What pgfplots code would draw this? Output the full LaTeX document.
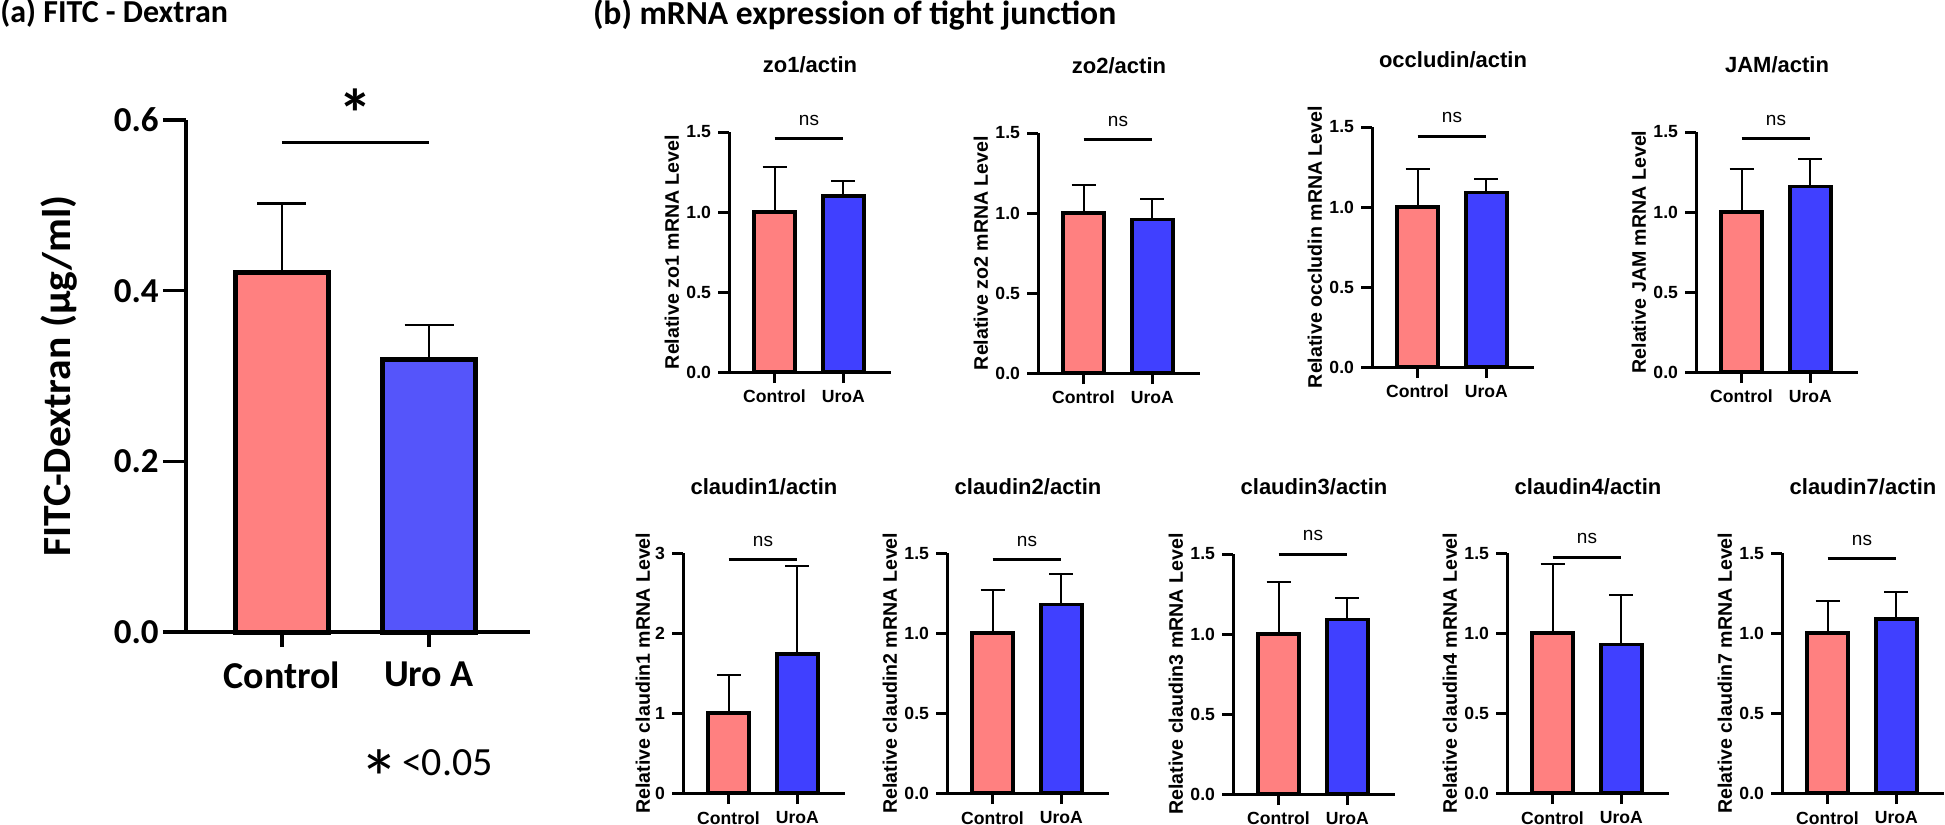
\documentclass[border=0pt]{standalone}
\usepackage{fontspec}
\usepackage{pgfplots}
\pgfplotsset{compat=1.18}
\setmainfont{Liberation Sans}
\newfontfamily\calfont{Carlito}
\newfontfamily\labfont{Carlito}[FakeStretch=1.04]
\definecolor{ctrl}{RGB}{255,128,128}
\definecolor{uroA}{RGB}{85,85,250}
\definecolor{uroB}{RGB}{64,64,255}

\tikzset{nsfont/.style={font=\fontsize{9.5}{11}\selectfont}}
\pgfplotsset{
  bbase/.style={scale only axis, width=81pt, height=120pt, anchor=south west,
    xmin=-0.66, xmax=1.69, ymin=0, ymax=1.5,
    axis x line*=bottom, axis y line*=left,
    axis line style={line width=1.5pt, -, black},
    xtick={0,1}, xticklabels={Control,UroA},
    ytick={0,0.5,1,1.5},
    yticklabel style={/pgf/number format/.cd, fixed, fixed zerofill, precision=1, assume math mode=true},
    tick align=outside, major tick length=5.5pt,
    every tick/.style={line width=1.5pt, black},
    tick label style={font=\fontsize{8.8}{10}\selectfont\bfseries},
    ylabel style={font=\fontsize{9.8}{11}\selectfont\bfseries, at={(axis description cs:-0.352,0.5)}, anchor=center},
    title style={font=\fontsize{11}{13}\selectfont\bfseries, at={(axis description cs:0.5,1.229)}, anchor=center},
    clip=false},
  gbar/.style={ybar, bar width=0.59, draw=black, line width=1.75pt,
    error bars/.cd, y dir=plus, y explicit,
    error bar style={line width=1pt, black},
    error mark options={rotate=90, line width=1pt, mark size=6pt, black}},
  abar/.style={ybar, bar width=0.626, draw=black, line width=2.5pt,
    error bars/.cd, y dir=plus, y explicit,
    error bar style={line width=1.25pt, black},
    error mark options={rotate=90, line width=1.25pt, mark size=12.25pt, black}},
  nsline/.style={line width=1.5pt, black},
}

\begin{document}
\begin{tikzpicture}
\useasboundingbox (0,0) rectangle (972.5pt,-412.5pt);

% ---------- titles ----------
\node[anchor=base west, inner sep=0pt, font=\calfont\bfseries\fontsize{16}{18}\selectfont] at (0pt,-11.35pt) {(a) FITC - Dextran};
\node[anchor=base west, inner sep=0pt, font=\calfont\bfseries\fontsize{16.8}{19}\selectfont] at (296.3pt,-12.1pt) {(b) mRNA expression of tight junction};

% ---------- (a) ----------
\begin{axis}[scale only axis, width=172pt, height=256pt, anchor=south west, at={(93pt,-316pt)},
  xmin=-0.653, xmax=1.687, ymin=0, ymax=0.6,
  axis x line*=bottom, axis y line*=left,
  axis line style={line width=1.75pt, -, black},
  xtick={0,1}, xticklabels={Control,Uro A}, ytick={0,0.2,0.4,0.6},
  yticklabel style={font=\calfont\bfseries\fontsize{17.5}{20}\selectfont, inner sep=2pt,
    /pgf/number format/.cd, fixed, fixed zerofill, precision=1, assume math mode=true},
  tick align=outside, major tick length=11.5pt,
  xtick style={/pgfplots/major tick length=7.5pt},
  every tick/.style={line width=1.75pt, black},
  xticklabel style={font=\calfont\bfseries\fontsize{19}{22}\selectfont},
  ylabel={FITC-Dextran (μg/ml)},
  ylabel style={font=\labfont\bfseries\fontsize{20}{22}\selectfont, at={(axis description cs:-0.37,0.5)}, anchor=center},
  clip=false]
\addplot[fill=ctrl, abar] coordinates {(0,0.421) +- (0,0.081)};
\addplot[fill=uroA, abar] coordinates {(1,0.319) +- (0,0.041)};
\addplot[line width=1.5pt, black] coordinates {(0,0.574) (1,0.574)};
\node[font=\calfont\bfseries\fontsize{34}{36}\selectfont] at (axis cs:0.5,0.608) {*};
\end{axis}
\node[anchor=base, inner sep=0pt, font=\calfont\fontsize{40}{42}\selectfont] at (189.75pt,-403.3pt) {*};
\node[anchor=base west, inner sep=0pt, font=\calfont\fontsize{20}{22}\selectfont] at (200.8pt,-387.5pt) {<0.05};

% ---------- (b) top row ----------
\begin{axis}[bbase, at={(364.5pt,-186pt)}, title={zo1/actin}, ylabel={Relative zo1 mRNA Level}]
\addplot[fill=ctrl, gbar] coordinates {(0,1.0) +- (0,0.284)};
\addplot[fill=uroB, gbar] coordinates {(1,1.10) +- (0,0.095)};
\addplot[nsline] coordinates {(0,1.462) (1,1.462)};
\node[nsfont] at (axis cs:0.5,1.575) {ns};
\end{axis}

\begin{axis}[bbase, at={(519pt,-186.5pt)}, title={zo2/actin}, ylabel={Relative zo2 mRNA Level}]
\addplot[fill=ctrl, gbar] coordinates {(0,1.0) +- (0,0.178)};
\addplot[fill=uroB, gbar] coordinates {(1,0.96) +- (0,0.125)};
\addplot[nsline] coordinates {(0,1.462) (1,1.462)};
\node[nsfont] at (axis cs:0.5,1.575) {ns};
\end{axis}

\begin{axis}[bbase, at={(686pt,-183.5pt)}, title={occludin/actin}, ylabel={Relative occludin mRNA Level}]
\addplot[fill=ctrl, gbar] coordinates {(0,1.0) +- (0,0.237)};
\addplot[fill=uroB, gbar] coordinates {(1,1.09) +- (0,0.085)};
\addplot[nsline] coordinates {(0,1.44) (1,1.44)};
\node[nsfont] at (axis cs:0.5,1.56) {ns};
\end{axis}

\begin{axis}[bbase, at={(848pt,-186pt)}, title={JAM/actin}, ylabel={Relative JAM mRNA Level}]
\addplot[fill=ctrl, gbar] coordinates {(0,1.0) +- (0,0.266)};
\addplot[fill=uroB, gbar] coordinates {(1,1.16) +- (0,0.172)};
\addplot[nsline] coordinates {(0,1.462) (1,1.462)};
\node[nsfont] at (axis cs:0.5,1.575) {ns};
\end{axis}

% ---------- (b) bottom row ----------
\begin{axis}[bbase, at={(341.5pt,-396.6pt)}, title={claudin1/actin}, ylabel={Relative claudin1 mRNA Level},
  ymax=3, ytick={0,1,2,3}, yticklabel style={/pgf/number format/precision=0},
  ylabel style={at={(axis description cs:-0.247,0.5)}}]
\addplot[fill=ctrl, gbar] coordinates {(0,1.0) +- (0,0.474)};
\addplot[fill=uroB, gbar] coordinates {(1,1.74) +- (0,1.10)};
\addplot[nsline] coordinates {(0,2.925) (1,2.925)};
\node[nsfont] at (axis cs:0.5,3.15) {ns};
\end{axis}

\begin{axis}[bbase, at={(473.5pt,-396.6pt)}, title={claudin2/actin}, ylabel={Relative claudin2 mRNA Level}]
\addplot[fill=ctrl, gbar] coordinates {(0,1.0) +- (0,0.27)};
\addplot[fill=uroB, gbar] coordinates {(1,1.18) +- (0,0.19)};
\addplot[nsline] coordinates {(0,1.462) (1,1.462)};
\node[nsfont] at (axis cs:0.5,1.575) {ns};
\end{axis}

\begin{axis}[bbase, at={(616.5pt,-397pt)}, title={claudin3/actin}, ylabel={Relative claudin3 mRNA Level}]
\addplot[fill=ctrl, gbar] coordinates {(0,1.0) +- (0,0.328)};
\addplot[fill=uroB, gbar] coordinates {(1,1.09) +- (0,0.135)};
\addplot[nsline] coordinates {(0,1.5) (1,1.5)};
\node[nsfont] at (axis cs:0.5,1.615) {ns};
\end{axis}

\begin{axis}[bbase, at={(753.5pt,-396.6pt)}, title={claudin4/actin}, ylabel={Relative claudin4 mRNA Level}]
\addplot[fill=ctrl, gbar] coordinates {(0,1.0) +- (0,0.43)};
\addplot[fill=uroB, gbar] coordinates {(1,0.93) +- (0,0.307)};
\addplot[nsline] coordinates {(0,1.476) (1,1.476)};
\node[nsfont] at (axis cs:0.5,1.59) {ns};
\end{axis}

\begin{axis}[bbase, at={(891pt,-396.6pt)}, title={claudin7/actin}, ylabel={Relative claudin7 mRNA Level}]
\addplot[fill=ctrl, gbar] coordinates {(0,1.0) +- (0,0.20)};
\addplot[fill=uroB, gbar] coordinates {(1,1.09) +- (0,0.17)};
\addplot[nsline] coordinates {(0,1.466) (1,1.466)};
\node[nsfont] at (axis cs:0.5,1.58) {ns};
\end{axis}

\end{tikzpicture}
\end{document}
